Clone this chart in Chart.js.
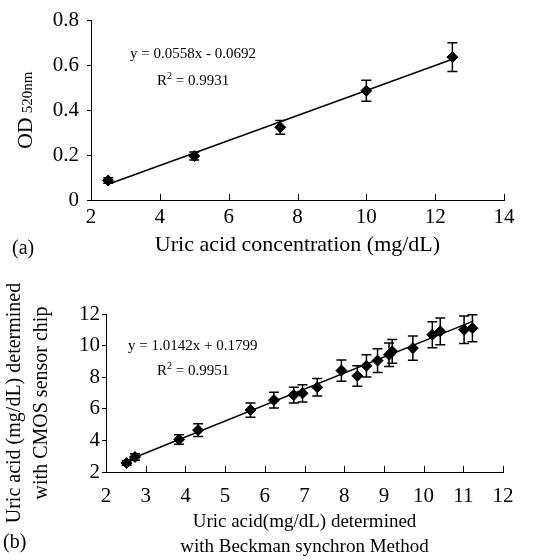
<!DOCTYPE html>
<html>
<head>
<meta charset="utf-8">
<script src="https://cdn.jsdelivr.net/npm/chart.js@4.4.1/dist/chart.umd.min.js"></script>
<style>
  body { margin: 0; background: #fff; }
  .box { position: absolute; left: 0; width: 558px; height: 280px; }
  .txt { position: absolute; font-family: "Liberation Serif", serif; color: #000; white-space: nowrap; }
  .eq { font-size: 15px; }
  .eq sup { font-size: 10px; }
  .tag { font-size: 20px; }
</style>
</head>
<body>
<div class="box" style="top:0"><canvas id="chartA"></canvas></div>
<div class="box" style="top:280px"><canvas id="chartB"></canvas></div>

<div class="txt eq" style="left:130px;top:45px">y = 0.0558x - 0.0692</div>
<div class="txt eq" style="left:157px;top:70px">R<sup>2</sup> = 0.9931</div>
<div class="txt eq" style="left:128px;top:337px">y = 1.0142x + 0.1799</div>
<div class="txt eq" style="left:157px;top:360px">R<sup>2</sup> = 0.9951</div>
<div class="txt tag" style="left:12px;top:236px">(a)</div>
<div class="txt tag" style="left:3px;top:530px">(b)</div>

<script>
// (a) calibration curve
const concA = [2.5, 5, 7.5, 10, 12.5];
const odA = [0.087, 0.196, 0.324, 0.487, 0.637];
const errA = [0.012, 0.018, 0.031, 0.047, 0.064];
const fitXA = [2.6, 12.5];
const fitYA = [0.076, 0.628];
const xTicksA = [2, 4, 6, 8, 10, 12, 14];
const yTicksA = [0, 0.2, 0.4, 0.6, 0.8];

// (b) CMOS chip vs Beckman
const beckB = [2.52, 2.73, 3.84, 4.32, 5.64, 6.23, 6.73, 6.95, 7.32, 7.93, 8.33, 8.56, 8.84, 9.13, 9.21, 9.73, 10.22, 10.42, 11.02, 11.23];
const cmosB = [2.57, 2.95, 4.05, 4.65, 5.92, 6.55, 6.87, 6.98, 7.36, 8.42, 8.08, 8.72, 9.05, 9.42, 9.63, 9.84, 10.69, 10.9, 11.0, 11.1];
const errB = [0.15, 0.2, 0.3, 0.4, 0.45, 0.5, 0.5, 0.55, 0.55, 0.67, 0.65, 0.7, 0.75, 0.75, 0.75, 0.77, 0.82, 0.85, 0.87, 0.85];
const fitXB = [2.5, 11.25];
const fitYB = [2.7, 11.55];
const xTicksB = [2, 3, 4, 5, 6, 7, 8, 9, 10, 11, 12];
const yTicksB = [2, 4, 6, 8, 10, 12];

const FONT = '"Liberation Serif", serif';

function pts(xs, ys) {
  return xs.map((x, i) => ({ x: x, y: ys[i] }));
}

// error bars + inward x ticks + rotated y title
const extras = {
  id: 'extras',
  afterDatasetsDraw(chart, args, opts) {
    const ctx = chart.ctx;
    const xs = chart.scales.x, ys = chart.scales.y;
    const ds = chart.data.datasets[0];
    ctx.save();
    ctx.strokeStyle = '#000';
    ctx.lineWidth = 1.5;
    ds.data.forEach((p, i) => {
      const e = ds.errors[i];
      const px = xs.getPixelForValue(p.x);
      const top = ys.getPixelForValue(p.y + e);
      const bot = ys.getPixelForValue(p.y - e);
      ctx.beginPath();
      ctx.moveTo(px, top); ctx.lineTo(px, bot);
      ctx.moveTo(px - 5, top); ctx.lineTo(px + 5, top);
      ctx.moveTo(px - 5, bot); ctx.lineTo(px + 5, bot);
      ctx.stroke();
    });
    ctx.restore();
  },
  afterDraw(chart, args, opts) {
    const ctx = chart.ctx;
    const xs = chart.scales.x;
    const area = chart.chartArea;
    ctx.save();
    ctx.strokeStyle = '#000';
    ctx.lineWidth = 1;
    xs.ticks.forEach(t => {
      const px = Math.round(xs.getPixelForValue(t.value)) + 0.5;
      ctx.beginPath();
      ctx.moveTo(px, area.bottom);
      ctx.lineTo(px, area.bottom - 6);
      ctx.stroke();
    });
    // y axis title
    const cy = (area.top + area.bottom) / 2 + (opts.shift || 0);
    ctx.fillStyle = '#000';
    ctx.textBaseline = 'alphabetic';
    if (opts.sub) {
      ctx.translate(opts.x, cy);
      ctx.rotate(-Math.PI / 2);
      ctx.font = '22px ' + FONT;
      const w1 = ctx.measureText(opts.main).width;
      ctx.font = '15px ' + FONT;
      const w2 = ctx.measureText(opts.sub).width;
      let sx = -(w1 + 4 + w2) / 2;
      ctx.font = '22px ' + FONT;
      ctx.fillText(opts.main, sx, 0);
      ctx.font = '15px ' + FONT;
      ctx.fillText(opts.sub, sx + w1 + 4, 0);
    } else {
      ctx.font = '20px ' + FONT;
      ctx.textAlign = 'center';
      ctx.textBaseline = 'middle';
      opts.lines.forEach((line, i) => {
        ctx.save();
        ctx.translate(opts.x + i * 27, cy);
        ctx.rotate(-Math.PI / 2);
        ctx.fillText(line, 0, 0);
        ctx.restore();
      });
    }
    ctx.restore();
  }
};

function makeChart(id, cfg) {
  const tickFont = { family: FONT, size: cfg.tickSize };
  return new Chart(document.getElementById(id), {
    type: 'scatter',
    data: {
      datasets: [
        {
          data: pts(cfg.xs, cfg.ys),
          errors: cfg.err,
          pointStyle: 'rectRot',
          pointRadius: 5.5,
          pointBackgroundColor: '#000',
          pointBorderColor: '#000',
          showLine: false
        },
        {
          data: pts(cfg.fitX, cfg.fitY),
          showLine: true,
          borderColor: '#000',
          borderWidth: 1.5,
          pointRadius: 0
        }
      ]
    },
    options: {
      responsive: true,
      maintainAspectRatio: false,
      animation: false,
      layout: { padding: cfg.pad },
      scales: {
        x: {
          type: 'linear',
          min: cfg.xTicks[0],
          max: cfg.xTicks[cfg.xTicks.length - 1],
          afterBuildTicks: s => { s.ticks = cfg.xTicks.map(v => ({ value: v })); },
          afterFit: s => { s.height = cfg.xH; },
          grid: { display: false },
          border: { display: true, color: '#000', width: 1 },
          ticks: { color: '#000', font: tickFont, padding: cfg.xPad, maxRotation: 0 },
          title: {
            display: true,
            text: cfg.xTitle,
            color: '#000',
            font: { family: FONT, size: cfg.titleSize, lineHeight: 1.35 },
            padding: { top: 0, bottom: cfg.xTitlePad }
          }
        },
        y: {
          min: cfg.yTicks[0],
          max: cfg.yTicks[cfg.yTicks.length - 1],
          afterBuildTicks: s => { s.ticks = cfg.yTicks.map(v => ({ value: v })); },
          afterFit: s => { s.width = cfg.yW; },
          grid: { display: true, drawOnChartArea: false, drawTicks: true, tickLength: 4, color: '#000' },
          border: { display: true, color: '#000', width: 1 },
          ticks: { color: '#000', font: tickFont, padding: cfg.yPad }
        }
      },
      plugins: {
        legend: { display: false },
        tooltip: { enabled: false },
        extras: cfg.yTitle
      }
    },
    plugins: [extras]
  });
}

makeChart('chartA', {
  xs: concA, ys: odA, err: errA, fitX: fitXA, fitY: fitYA,
  xTicks: xTicksA, yTicks: yTicksA,
  pad: { top: 17, right: 54, left: 0, bottom: 0 },
  xH: 80, yW: 91, xPad: -3, yPad: 8, xTitlePad: 20,
  tickSize: 21, titleSize: 22,
  xTitle: 'Uric acid concentration (mg/dL)',
  yTitle: { x: 32, main: 'OD', sub: '520nm', shift: 0 }
});

makeChart('chartB', {
  xs: beckB, ys: cmosB, err: errB, fitX: fitXB, fitY: fitYB,
  xTicks: xTicksB, yTicks: yTicksB,
  pad: { top: 34, right: 55, left: 0, bottom: 0 },
  xH: 88, yW: 106, xPad: 4, yPad: 2, xTitlePad: 0,
  tickSize: 21, titleSize: 19,
  xTitle: ['Uric acid(mg/dL) determined', 'with Beckman synchron Method'],
  yTitle: { x: 15, lines: ['Uric acid (mg/dL) determined', 'with CMOS sensor chip'], shift: 10 }
});
</script>
</body>
</html>
